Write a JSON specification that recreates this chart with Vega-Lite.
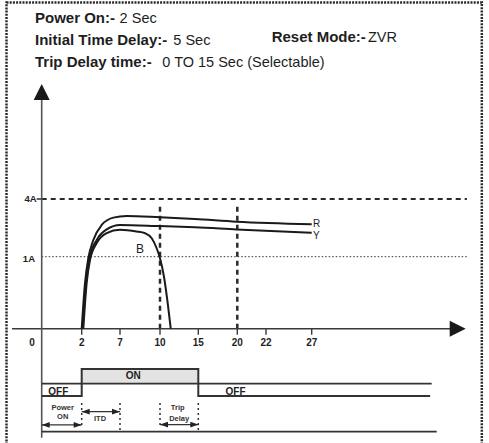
{
  "$schema": "https://vega.github.io/schema/vega-lite/v6.json",
  "width": 489,
  "height": 443,
  "padding": 0,
  "autosize": "none",
  "background": "white",
  "config": {"view": {"stroke": null}, "text": {"font": "Liberation Sans", "color": "#1e1e1e"}},
  "encoding": {
    "x": {"field": "t", "type": "quantitative", "axis": null,
      "scale": {"domain": [0, 2, 7, 10, 15, 20, 22, 27, 40], "range": [41.7, 81.7, 120, 160, 198.3, 237.3, 266, 311.7, 465.7], "zero": false, "nice": false}}
  },
  "resolve": {"scale": {"y": "independent"}},
  "layer": [
    {
      "encoding": {"y": {"field": "row", "type": "quantitative", "axis": null, "scale": {"domain": [1, 3], "range": [23.3, 66.7], "zero": false, "nice": false}}},
      "layer": [
        {
          "data": {"values": [
            {"t": -0.335, "row": 1, "label": "Power On:-"},
            {"t": -0.335, "row": 2, "label": "Initial Time Delay:-"},
            {"t": -0.335, "row": 3, "label": "Trip Delay time:-"},
            {"t": 22.62, "row": 1.85, "label": "Reset Mode:-"}
          ]},
          "mark": {"type": "text", "align": "left", "baseline": "alphabetic", "fontSize": 15, "fontWeight": "bold"},
          "encoding": {"text": {"field": "label"}}
        },
        {
          "data": {"values": [
            {"t": 6.95, "row": 1, "label": "2 Sec"},
            {"t": 11.74, "row": 2, "label": "5 Sec"},
            {"t": 10.3, "row": 3, "label": "0 TO 15 Sec (Selectable)"},
            {"t": 31.75, "row": 1.85, "label": "ZVR"}
          ]},
          "mark": {"type": "text", "align": "left", "baseline": "alphabetic", "fontSize": 14.5},
          "encoding": {"text": {"field": "label"}}
        }
      ]
    },
    {
      "encoding": {"y": {"field": "a", "type": "quantitative", "axis": null, "scale": {"domain": [-1.5, 0, 1, 4, 10], "range": [437.7, 328.7, 256.7, 199, 84], "zero": false, "nice": false}}},
      "layer": [
        {
          "data": {"values": [{"t": 0, "t2": 40.1, "a": 4}]},
          "mark": {"type": "rule", "color": "#2a2a2a", "strokeWidth": 2, "strokeDash": [5, 4]},
          "encoding": {"x2": {"field": "t2"}}
        },
        {
          "data": {"values": [{"t": 0, "t2": 40.1, "a": 1}]},
          "mark": {"type": "rule", "color": "#333333", "strokeWidth": 1, "strokeDash": [1.5, 2]},
          "encoding": {"x2": {"field": "t2"}}
        },
        {
          "data": {"values": [{"t": 10, "a": 0, "a2": 3.69}, {"t": 20, "a": 0, "a2": 3.69}]},
          "mark": {"type": "rule", "color": "#2a2a2a", "strokeWidth": 2.5, "strokeDash": [5, 4]},
          "encoding": {"y2": {"field": "a2"}}
        },
        {
          "data": {"values": [{"t": -1.485, "t2": 39, "a": 0}, {"t": -0.25, "t2": 0, "a": 4}]},
          "mark": {"type": "rule", "color": "#3a3a3a", "strokeWidth": 1.6},
          "encoding": {"x2": {"field": "t2"}}
        },
        {
          "data": {"values": [{"t": 0, "a": -1.5, "a2": 9.6}]},
          "mark": {"type": "rule", "color": "#555555", "strokeWidth": 1.6},
          "encoding": {"y2": {"field": "a2"}}
        },
        {
          "data": {"values": [
            {"t": 2, "a": 0, "a2": -0.083}, {"t": 7, "a": 0, "a2": -0.083}, {"t": 10, "a": 0, "a2": -0.083},
            {"t": 15, "a": 0, "a2": -0.083}, {"t": 20, "a": 0, "a2": -0.083}, {"t": 22, "a": 0, "a2": -0.083},
            {"t": 27, "a": 0, "a2": -0.083}
          ]},
          "mark": {"type": "rule", "color": "#3a3a3a", "strokeWidth": 1.4},
          "encoding": {"y2": {"field": "a2"}}
        },
        {
          "data": {"values": [
            {"s": "R", "t": 2.0, "a": 0}, {"s": "R", "t": 2.43, "a": 0.635}, {"s": "R", "t": 2.86, "a": 0.978},
            {"s": "R", "t": 3.52, "a": 1.87}, {"s": "R", "t": 4.61, "a": 2.65}, {"s": "R", "t": 6.13, "a": 3.03},
            {"s": "R", "t": 7.5, "a": 3.12}, {"s": "R", "t": 10, "a": 3.05}, {"s": "R", "t": 14.56, "a": 2.96},
            {"s": "R", "t": 19.92, "a": 2.82}, {"s": "R", "t": 27, "a": 2.69},
            {"s": "Y", "t": 2.13, "a": 0}, {"s": "Y", "t": 2.56, "a": 0.635}, {"s": "Y", "t": 3.08, "a": 1.0},
            {"s": "Y", "t": 3.96, "a": 1.87}, {"s": "Y", "t": 5.26, "a": 2.42}, {"s": "Y", "t": 7.0, "a": 2.65},
            {"s": "Y", "t": 10, "a": 2.59}, {"s": "Y", "t": 14.56, "a": 2.53}, {"s": "Y", "t": 19.92, "a": 2.42},
            {"s": "Y", "t": 27, "a": 2.25},
            {"s": "B", "t": 2.21, "a": 0}, {"s": "B", "t": 2.65, "a": 0.635}, {"s": "B", "t": 3.08, "a": 0.954},
            {"s": "B", "t": 3.96, "a": 1.71}, {"s": "B", "t": 5.26, "a": 2.23}, {"s": "B", "t": 7.0, "a": 2.4},
            {"s": "B", "t": 8.25, "a": 2.31}, {"s": "B", "t": 8.88, "a": 2.22}, {"s": "B", "t": 9.38, "a": 1.96},
            {"s": "B", "t": 9.75, "a": 1.44}, {"s": "B", "t": 10, "a": 0.978}, {"s": "B", "t": 10.52, "a": 0.722},
            {"s": "B", "t": 10.95, "a": 0.4}, {"s": "B", "t": 11.4, "a": 0}
          ]},
          "mark": {"type": "line", "color": "#1a1a1a", "strokeWidth": 2, "interpolate": "monotone"},
          "encoding": {"detail": {"field": "s"}}
        },
        {
          "data": {"values": [{"t": 0, "a": 10}]},
          "mark": {"type": "point", "shape": "M0,0L-1,2L1,2Z", "size": 256, "filled": true, "color": "#1a1a1a", "opacity": 1},
          "encoding": {}
        },
        {
          "data": {"values": [{"t": 40, "a": 0}]},
          "mark": {"type": "point", "shape": "M0,0L-2,-1L-2,1Z", "size": 256, "filled": true, "color": "#1a1a1a", "opacity": 1},
          "encoding": {}
        },
        {
          "data": {"values": [
            {"t": -0.485, "a": -0.197, "label": "0"}, {"t": 2, "a": -0.197, "label": "2"}, {"t": 7, "a": -0.197, "label": "7"},
            {"t": 10, "a": -0.197, "label": "10"}, {"t": 15, "a": -0.197, "label": "15"}, {"t": 20, "a": -0.197, "label": "20"},
            {"t": 22, "a": -0.197, "label": "22"}, {"t": 27, "a": -0.197, "label": "27"}
          ]},
          "mark": {"type": "text", "align": "center", "baseline": "middle", "fontSize": 10, "fontWeight": "bold"},
          "encoding": {"text": {"field": "label"}}
        },
        {
          "data": {"values": [{"t": -0.25, "a": 4, "label": "4A"}, {"t": -0.335, "a": 0.97, "label": "1A"}]},
          "mark": {"type": "text", "align": "right", "baseline": "middle", "fontSize": 9.5, "fontWeight": "bold"},
          "encoding": {"text": {"field": "label"}}
        },
        {
          "data": {"values": [{"t": 27.1, "a": 2.69, "label": "R"}, {"t": 27.1, "a": 2.08, "label": "Y"}]},
          "mark": {"type": "text", "align": "left", "baseline": "middle", "fontSize": 10},
          "encoding": {"text": {"field": "label"}}
        },
        {
          "data": {"values": [{"t": 8.5, "a": 1.385, "label": "B"}]},
          "mark": {"type": "text", "align": "center", "baseline": "middle", "fontSize": 12},
          "encoding": {"text": {"field": "label"}}
        }
      ]
    },
    {
      "encoding": {"y": {"field": "lvl", "type": "quantitative", "axis": null, "scale": {"domain": [0, 1], "range": [396, 369], "zero": false, "nice": false}}},
      "layer": [
        {
          "data": {"values": [{"t": -1.76, "t2": 41.36, "lvl": 14.57, "lvl2": -2.5}]},
          "mark": {"type": "rect", "fill": null, "fillOpacity": 0, "stroke": "#2a2a2a", "strokeWidth": 2.5, "strokeDash": [2, 1.2]},
          "encoding": {"x2": {"field": "t2"}, "y2": {"field": "lvl2"}}
        },
        {
          "data": {"values": [{"t": 2, "t2": 15, "lvl": 0.455, "lvl2": 1}]},
          "mark": {"type": "rect", "fill": "#e3e3e3", "stroke": null},
          "encoding": {"x2": {"field": "t2"}, "y2": {"field": "lvl2"}}
        },
        {
          "data": {"values": [{"t": 0, "t2": 37.13, "lvl": 0.455}, {"t": 0, "t2": 37.55, "lvl": -1.322}]},
          "mark": {"type": "rule", "color": "#333333", "strokeWidth": 1.8},
          "encoding": {"x2": {"field": "t2"}}
        },
        {
          "data": {"values": [
            {"i": 0, "t": 0, "lvl": 0}, {"i": 1, "t": 2, "lvl": 0}, {"i": 2, "t": 2, "lvl": 1},
            {"i": 3, "t": 15, "lvl": 1}, {"i": 4, "t": 15, "lvl": 0}, {"i": 5, "t": 37, "lvl": 0}
          ]},
          "mark": {"type": "line", "color": "#333333", "strokeWidth": 2},
          "encoding": {"order": {"field": "i", "type": "quantitative"}}
        },
        {
          "data": {"values": [
            {"t": 2, "lvl": -0.259, "lvl2": -1.074}, {"t": 7, "lvl": -0.259, "lvl2": -1.296},
            {"t": 10, "lvl": -0.259, "lvl2": -1.15}, {"t": 15, "lvl": -0.259, "lvl2": -1.296}
          ]},
          "mark": {"type": "rule", "color": "#333333", "strokeWidth": 1.5, "strokeDash": [2, 3]},
          "encoding": {"y2": {"field": "lvl2"}}
        },
        {
          "data": {"values": [
            {"t": 0, "t2": 2, "lvl": -1.07}, {"t": 2, "t2": 7, "lvl": -0.58}, {"t": 10, "t2": 15, "lvl": -1.06}
          ]},
          "mark": {"type": "rule", "color": "#333333", "strokeWidth": 1.4},
          "encoding": {"x2": {"field": "t2"}}
        },
        {
          "data": {"values": [{"t": 2, "lvl": -1.07}, {"t": 7, "lvl": -0.58}, {"t": 15, "lvl": -1.06}]},
          "mark": {"type": "point", "shape": "M0,0L-2,-0.7L-2,0.7Z", "size": 64, "filled": true, "color": "#222222", "opacity": 1},
          "encoding": {}
        },
        {
          "data": {"values": [{"t": 0, "lvl": -1.07}, {"t": 2, "lvl": -0.58}, {"t": 10, "lvl": -1.06}]},
          "mark": {"type": "point", "shape": "M0,0L2,-0.7L2,0.7Z", "size": 64, "filled": true, "color": "#222222", "opacity": 1},
          "encoding": {}
        },
        {
          "data": {"values": [{"t": 8.0, "lvl": 0.74, "label": "ON"}, {"t": 0.83, "lvl": 0.16, "label": "OFF"}, {"t": 19.78, "lvl": 0.16, "label": "OFF"}]},
          "mark": {"type": "text", "align": "center", "baseline": "middle", "fontSize": 10, "fontWeight": "bold"},
          "encoding": {"text": {"field": "label"}}
        },
        {
          "data": {"values": [
            {"t": 1.05, "lvl": -0.426, "label": "Power"}, {"t": 1.05, "lvl": -0.778, "label": "ON"},
            {"t": 4.39, "lvl": -0.85, "label": "ITD"}, {"t": 12.31, "lvl": -0.456, "label": "Trip"},
            {"t": 12.5, "lvl": -0.85, "label": "Delay"}
          ]},
          "mark": {"type": "text", "align": "center", "baseline": "middle", "fontSize": 7.5, "fontWeight": "bold", "color": "#333333"},
          "encoding": {"text": {"field": "label"}}
        }
      ]
    }
  ]
}
